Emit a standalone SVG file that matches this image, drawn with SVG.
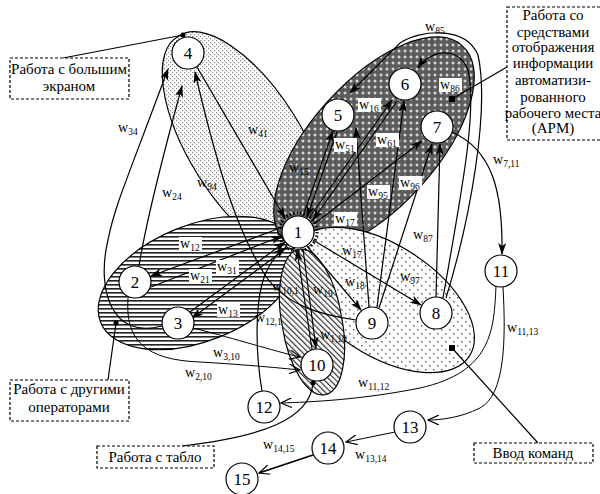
<svg xmlns="http://www.w3.org/2000/svg" width="600" height="494" viewBox="0 0 600 494" font-family="'Liberation Serif','DejaVu Serif',serif">
<defs>
<pattern id="pDot4" width="4" height="4" patternUnits="userSpaceOnUse"><rect width="4" height="4" fill="#fff"/><rect x="0" y="0" width="1.2" height="1.2" fill="#888"/><rect x="2" y="2" width="1.2" height="1.2" fill="#888"/></pattern>
<pattern id="pDark" width="6" height="6" patternUnits="userSpaceOnUse"><rect width="6" height="6" fill="#5c5c5c"/><path d="M3,1.5V4.5M1.5,3H4.5" stroke="#fff" stroke-width="1"/></pattern>
<pattern id="pStripe" width="4" height="4" patternUnits="userSpaceOnUse"><rect width="4" height="4" fill="#fff"/><rect y="0" width="4" height="1.6" fill="#222"/></pattern>
<pattern id="pDot9" width="8" height="8" patternUnits="userSpaceOnUse"><rect width="8" height="8" fill="#fff"/><rect x="1" y="1" width="1.5" height="1.5" fill="#666"/><rect x="5" y="5" width="1.5" height="1.5" fill="#666"/></pattern>
<pattern id="pHatch" width="4" height="4" patternUnits="userSpaceOnUse" patternTransform="rotate(-45)"><rect width="4" height="4" fill="#fff"/><rect x="0" width="1.2" height="4" fill="#333"/></pattern>
<marker id="ah" viewBox="0 0 12 8" refX="11" refY="4" markerWidth="12" markerHeight="8" markerUnits="userSpaceOnUse" orient="auto"><path d="M0,0 L12,4 L0,8 L3,4 z" fill="#000"/></marker>
<marker id="ao" viewBox="0 0 12 10" refX="11" refY="5" markerWidth="12" markerHeight="10" markerUnits="userSpaceOnUse" orient="auto"><path d="M0,0 L11,5 L0,10" fill="none" stroke="#000" stroke-width="1.2"/></marker>
</defs>
<style>
text{font-family:'Liberation Serif','DejaVu Serif',serif}
.rg{stroke:#000;stroke-width:1.2}
.e{fill:none;stroke:#000;stroke-width:1.2;marker-end:url(#ah)}
.eo{fill:none;stroke:#000;stroke-width:1;marker-end:url(#ao)}
.ld{fill:none;stroke:#000;stroke-width:1.2}
.nd circle{fill:#fff;stroke:#000;stroke-width:1.2}
.nd text{font-size:17px;text-anchor:middle;fill:#000}
.lb{font-size:14px;fill:#000}
.sb{font-size:9.5px}
.bg{fill:#fff}
.box{fill:#fff;stroke:#000;stroke-width:1.2;stroke-dasharray:3,2}
.bt{font-size:15px;text-anchor:middle;fill:#000}
</style>

<g id="regions">
<path id="reg4" class="rg" fill="url(#pDot4)" d="M178.2,36.5 A128,55 58 1 0 313.8,253.5 A128,55 58 1 0 178.2,36.5 Z"/>
<path id="reg23" class="rg" fill="url(#pStripe)" d="M100.6,322.3 A105,58 -22 1 0 295.4,243.7 A105,58 -22 1 0 100.6,322.3 Z"/>
<path id="reg567" class="rg" fill="url(#pDark)" d="M285.7,242.1 A132,62 -48 1 0 462.3,45.9 A132,62 -48 1 0 285.7,242.1 Z"/>
<path id="reg89" class="rg" fill="url(#pDot9)" d="M296.6,243.9 A103,55 33 1 0 469.4,356.1 A103,55 33 1 0 296.6,243.9 Z"/>
<path id="reg10" class="rg" fill="url(#pHatch)" d="M282.5,327.2 A30,70 -10 1 0 341.5,316.8 A30,70 -10 1 0 282.5,327.2 Z"/>
<circle cx="298" cy="232" r="19" fill="none" stroke="#000" stroke-width="3" stroke-dasharray="1.5,2"/>
</g>

<g id="connectors">
<path class="e" d="M283,227 L151,276"/>
<path class="e" d="M151,287 L282,236"/>
<path class="e" d="M190,312 L285,242"/>
<path class="e" d="M288,247 L192,318"/>
<path class="e" d="M162,326 C112,340 96,290 108,240 C115,205 125,185 168,69"/>
<path class="e" d="M139,266 Q148,210 182,86"/>
<path class="e" d="M197,67 L285,218"/>
<path class="e" d="M356,320 C320,315 285,305 265,275 C240,235 220,180 195,72"/>
<path class="e" d="M303,216 L333,131"/>
<path class="e" d="M337,132 L307,217"/>
<path class="e" d="M309,218 L392,100"/>
<path class="e" d="M397,101 L313,220"/>
<path class="e" d="M369,307 L356,128"/>
<path class="e" d="M314,224 L422,141"/>
<path class="e" d="M377,307 L404,101"/>
<path class="e" d="M443,298 C460,200 478,110 468,70 C458,45 430,50 418,68"/>
<path class="e" d="M446,298 C470,220 490,110 478,55 C465,25 420,30 400,43 L350,93"/>
<path class="e" d="M452,132 C492,150 503,190 502,254"/>
<path class="e" d="M436,297 L440,144"/>
<path class="e" d="M379,308 L432,144"/>
<path class="e" d="M313,240 L421,305"/>
<path class="e" d="M307,246 L361,310"/>
<path class="e" d="M312,349 L297,250"/>
<path class="e" d="M303,249 L316,348"/>
<path class="e" d="M262,391 C255,350 255,300 265,275 C272,258 280,252 285,248"/>
<path class="eo" d="M193,328 C240,340 270,350 300,357"/>
<path class="eo" d="M128,298 C125,340 145,360 200,362 C250,365 280,368 300,370"/>
<path class="eo" d="M496,286 C494,330 492,372 420,388 C360,400 310,402 281,403"/>
<path class="eo" d="M503,287 C506,340 505,395 480,408 C460,418 440,420 428,420"/>
<path class="eo" d="M395,432 L346,442"/>
<path class="eo" d="M313,455 L259,473" style="stroke-width:1.8"/>
</g>

<g id="labels">
<rect class="bg" x="179" y="237" width="23" height="14"/><text class="lb" x="180" y="248">w<tspan class="sb" dy="3">12</tspan></text>
<rect class="bg" x="189" y="269" width="23" height="14"/><text class="lb" x="190" y="280">w<tspan class="sb" dy="3">21</tspan></text>
<rect class="bg" x="216" y="260" width="23" height="14"/><text class="lb" x="217" y="271">w<tspan class="sb" dy="3">31</tspan></text>
<rect class="bg" x="217" y="303" width="23" height="14"/><text class="lb" x="218" y="314">w<tspan class="sb" dy="3">13</tspan></text>
<text class="lb" x="118" y="132">w<tspan class="sb" dy="3">34</tspan></text>
<text class="lb" x="162" y="197">w<tspan class="sb" dy="3">24</tspan></text>
<text class="lb" x="248" y="134">w<tspan class="sb" dy="3">41</tspan></text>
<text class="lb" x="197" y="187">w<tspan class="sb" dy="3">94</tspan></text>
<text class="lb" x="289" y="172">w<tspan class="sb" dy="3">15</tspan></text>
<rect class="bg" x="334" y="138" width="23" height="14"/><text class="lb" x="335" y="149">w<tspan class="sb" dy="3">51</tspan></text>
<rect class="bg" x="358" y="98" width="23" height="14"/><text class="lb" x="359" y="109">w<tspan class="sb" dy="3">16</tspan></text>
<rect class="bg" x="376" y="133" width="23" height="14"/><text class="lb" x="377" y="144">w<tspan class="sb" dy="3">61</tspan></text>
<rect class="bg" x="367" y="185" width="23" height="14"/><text class="lb" x="368" y="196">w<tspan class="sb" dy="3">95</tspan></text>
<rect class="bg" x="334" y="212" width="23" height="14"/><text class="lb" x="335" y="223">w<tspan class="sb" dy="3">17</tspan></text>
<rect class="bg" x="399" y="176" width="23" height="14"/><text class="lb" x="400" y="187">w<tspan class="sb" dy="3">96</tspan></text>
<rect class="bg" x="439" y="78" width="23" height="14"/><text class="lb" x="440" y="89">w<tspan class="sb" dy="3">86</tspan></text>
<text class="lb" x="425" y="31">w<tspan class="sb" dy="3">85</tspan></text>
<text class="lb" x="493" y="164">w<tspan class="sb" dy="3">7,11</tspan></text>
<text class="lb" x="413" y="239">w<tspan class="sb" dy="3">87</tspan></text>
<text class="lb" x="400" y="281">w<tspan class="sb" dy="3">97</tspan></text>
<text class="lb" x="342" y="255">w<tspan class="sb" dy="3">17</tspan></text>
<text class="lb" x="345" y="286">w<tspan class="sb" dy="3">18</tspan></text>
<text class="lb" x="313" y="294">w<tspan class="sb" dy="3">19</tspan></text>
<text class="lb" x="272" y="291">w<tspan class="sb" dy="3">10,1</tspan></text>
<text class="lb" x="255" y="322">w<tspan class="sb" dy="3">12,1</tspan></text>
<text class="lb" x="320" y="339">w<tspan class="sb" dy="3">1,10</tspan></text>
<text class="lb" x="213" y="357">w<tspan class="sb" dy="3">3,10</tspan></text>
<text class="lb" x="185" y="377">w<tspan class="sb" dy="3">2,10</tspan></text>
<text class="lb" x="358" y="387">w<tspan class="sb" dy="3">11,12</tspan></text>
<text class="lb" x="507" y="332">w<tspan class="sb" dy="3">11,13</tspan></text>
<text class="lb" x="355" y="459">w<tspan class="sb" dy="3">13,14</tspan></text>
<text class="lb" x="263" y="449">w<tspan class="sb" dy="3">14,15</tspan></text>
</g>

<g id="nodes">
<g id="n1" class="nd"><circle cx="298" cy="232" r="16"/><text x="298" y="238">1</text></g>
<g id="n2" class="nd"><circle cx="135" cy="282" r="16"/><text x="135" y="288">2</text></g>
<g id="n3" class="nd"><circle cx="178" cy="323" r="16"/><text x="178" y="329">3</text></g>
<g id="n4" class="nd"><circle cx="188" cy="53" r="16"/><text x="188" y="59">4</text></g>
<g id="n5" class="nd"><circle cx="338" cy="115" r="16"/><text x="338" y="121">5</text></g>
<g id="n6" class="nd"><circle cx="405" cy="84" r="16"/><text x="405" y="90">6</text></g>
<g id="n7" class="nd"><circle cx="437" cy="127" r="16"/><text x="437" y="133">7</text></g>
<g id="n8" class="nd"><circle cx="436" cy="313" r="16"/><text x="436" y="319">8</text></g>
<g id="n9" class="nd"><circle cx="372" cy="323" r="16"/><text x="372" y="329">9</text></g>
<g id="n10" class="nd"><circle cx="317" cy="365" r="16"/><text x="317" y="371">10</text></g>
<g id="n11" class="nd"><circle cx="501" cy="271" r="16"/><text x="501" y="277">11</text></g>
<g id="n12" class="nd"><circle cx="264" cy="407" r="16"/><text x="264" y="413">12</text></g>
<g id="n13" class="nd"><circle cx="410" cy="427" r="16"/><text x="410" y="433">13</text></g>
<g id="n14" class="nd"><circle cx="328" cy="448" r="16"/><text x="328" y="454">14</text></g>
<g id="n15" class="nd"><circle cx="242" cy="479" r="16"/><text x="242" y="485">15</text></g>
</g>

<g id="annotations">
<path class="ld" d="M63,58 L183,35"/><circle cx="183" cy="35" r="2.5"/>
<rect class="box" x="10" y="58" width="119" height="41"/>
<text class="bt" x="69" y="74">Работа с большим</text><text class="bt" x="69" y="91">экраном</text>
<path class="ld" d="M507,67 L452,99"/><rect x="449" y="96" width="6" height="6"/>
<rect class="box" x="507" y="7" width="100" height="133"/>
<text class="bt" x="553" y="20">Работа со</text>
<text class="bt" x="553" y="37">средствами</text>
<text class="bt" x="553" y="52">отображения</text>
<text class="bt" x="553" y="68">информации</text>
<text class="bt" x="553" y="85">автоматизи-</text>
<text class="bt" x="553" y="102">рованного</text>
<text class="bt" x="553" y="118">рабочего места</text>
<text class="bt" x="553" y="133">(АРМ)</text>
<path class="ld" d="M108,380 L116,323"/><circle cx="116" cy="323" r="2.5"/>
<rect class="box" x="10" y="380" width="119" height="41"/>
<text class="bt" x="69" y="394">Работа с другими</text><text class="bt" x="69" y="412">операторами</text>
<path class="ld" d="M182,446 C260,437 310,420 313,383"/><circle cx="313" cy="383" r="2.5"/>
<rect class="box" x="97" y="446" width="117" height="22"/>
<text class="bt" x="155" y="462">Работа с табло</text>
<path class="ld" d="M538,443 L452,348"/><rect x="449" y="345" width="6" height="6"/>
<rect class="box" x="474" y="443" width="119" height="20"/>
<text class="bt" x="533" y="458">Ввод команд</text>
</g>
</svg>
